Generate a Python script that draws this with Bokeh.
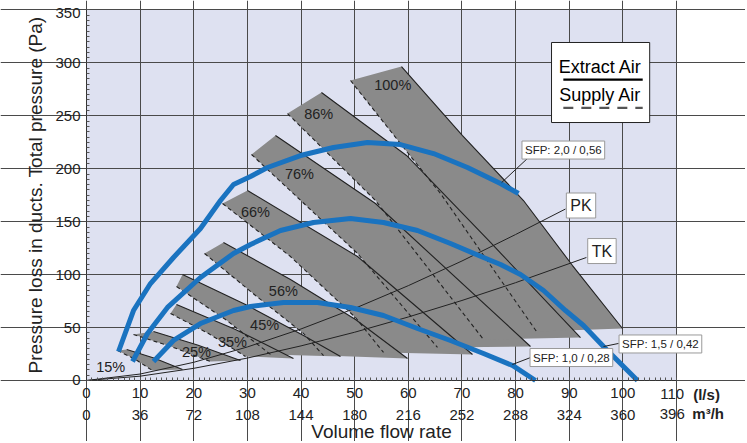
from bokeh.plotting import figure
from bokeh.models import Range1d, FixedTicker, Label, LinearAxis
from bokeh.embed import file_html
from bokeh.resources import INLINE
from bokeh.core.properties import value

# ---------------- data ----------------
x_ticks_ls = [0, 10, 20, 30, 40, 50, 60, 70, 80, 90, 100, 110]
x_ticks_m3h = [0, 36, 72, 108, 144, 180, 216, 252, 288, 324, 360, 396]
y_ticks = [0, 50, 100, 150, 200, 250, 300, 350]

speed_labels = ["15%", "25%", "35%", "45%", "56%", "66%", "76%", "86%", "100%"]
# extract air (solid) edges: top-right corner -> bottom
solid_x = [[7.5, 12.7, 17.9], [12.49, 20.69, 28.71], [16.78, 27.78, 38.59],
           [17.90, 29.64, 40.46, 47.36], [25.54, 38.03, 50.15, 59.85],
           [30.02, 50.53, 71.97], [35.24, 53.88, 82.78], [43.81, 59.66, 75.32, 92.10],
           [58.73, 70.10, 81.47, 90.61, 99.93]]
solid_y = [[29.3, 21.0, 10.4], [46.3, 33.5, 18.9], [71.8, 48.2, 20.8],
           [100.1, 71.8, 42.5, 22.7], [130.4, 95.4, 57.6, 20.8],
           [179.5, 117.1, 24.6], [231.4, 167.2, 32.1], [272.1, 212.6, 130.4, 40.6],
           [296.6, 231.4, 170.0, 108.6, 49.1]]
# supply air (dashed) edges: top-left corner -> bottom
dash_x = [[5.8, 9.1, 12.3], [8.76, 16.03, 23.12], [15.66, 22.75, 29.64],
          [16.78, 25.92, 34.31], [22.0, 31.51, 40.46, 44.19], [25.36, 38.03, 50.15, 55.37],
          [30.76, 50.53, 65.44], [37.47, 53.88, 74.02], [49.22, 59.85, 66.0, 83.90]]
dash_y = [[28.3, 20.0, 9.4], [43.5, 31.6, 17.9], [63.3, 44.4, 22.7],
          [88.8, 57.6, 24.6], [120.0, 80.3, 44.4, 23.6], [167.2, 117.1, 59.5, 26.5],
          [213.5, 120.0, 31.2], [252.2, 170.0, 38.7], [283.4, 215.4, 176.7, 46.3]]
speed_label_x = [4.5, 20.5, 27.2, 33.2, 36.7, 31.5, 39.7, 43.3, 57.1]
speed_label_y = [12.3, 26.5, 36.8, 52.9, 85.0, 159.6, 195.5, 252.2, 279.6]

sfp20_x = [5.97, 8.76, 11.93, 16.22, 21.25, 24.98, 27.41, 30.58, 33.75, 39.90, 46.05, 52.39,
           58.54, 64.70, 71.03, 77.19, 80.54]
sfp20_y = [27.4, 66.1, 91.6, 116.2, 143.6, 170.0, 185.2, 192.7, 201.2, 212.5, 220.1, 224.8,
           222.9, 214.4, 201.2, 186.1, 176.6]
sfp15_x = [8.58, 11.37, 15.10, 21.25, 27.41, 30.58, 36.17, 42.32, 49.22, 55.37, 61.71, 67.86,
           74.02, 77.19, 80.92, 85.21, 89.31, 92.66, 96.39, 99.56, 102.73]
sfp15_y = [17.9, 44.4, 69.0, 97.3, 120.0, 128.5, 141.7, 149.3, 153.0, 149.3, 141.7, 129.4,
           116.2, 109.6, 100.1, 85.0, 66.1, 52.0, 32.1, 16.1, 0.0]
sfp10_x = [12.49, 16.22, 21.25, 27.41, 30.58, 36.73, 43.07, 49.22, 55.37, 61.71, 67.86, 74.02,
           79.42, 83.71]
sfp10_y = [17.9, 37.8, 53.8, 66.1, 69.9, 73.7, 73.7, 69.0, 61.4, 49.1, 37.8, 25.5, 14.2, 0.0]

# system curves
pk_x = [0, 10, 20, 30, 40, 50, 60, 70, 80, 89.3]
pk_y = [0, 6.1, 17.2, 31.7, 48.7, 68.1, 89.6, 112.9, 137.9, 162.0]
tk_x = [0, 10, 20, 30, 40, 50, 60, 70, 80, 93.2]
tk_y = [0, 4.1, 11.5, 21.2, 32.7, 45.6, 60.0, 75.6, 92.4, 116.2]

sfp_texts = ["SFP: 2,0 / 0,56", "SFP: 1,5 / 0,42", "SFP: 1,0 / 0,28"]
sfp_box_x = [88.9, 107.0, 90.4]
sfp_box_y = [217.7, 34.5, 21.7]
sfp_lead_x = [[82.2, 77.4], [99.2, 96.4], [82.8, 79.4]]
sfp_lead_y = [[209.7, 187.0], [35.0, 32.1], [21.7, 15.1]]

# ---------------- styling ----------------
FONT = "Liberation Sans"
BG = "#dee1f1"
GRAY = "#8a8a8a"
BLUE = "#1a73c0"
INK = "#222222"
GRID = "#4a4a4a"

# the frame covers the whole canvas; axes are pinned to x=0 / y=0
p = figure(width=745, height=441, title=None,
           x_range=Range1d(-16.034, 122.864), y_range=Range1d(-57.625, 358.97),
           output_backend="svg", toolbar_location=None,
           min_border=0, min_border_left=0, min_border_right=0,
           min_border_top=0, min_border_bottom=0)
p.background_fill_color = "white"
p.border_fill_color = "white"
p.outline_line_color = None

# plot area background
p.quad(left=[0], right=[110], bottom=[0], top=[350], fill_color=BG, line_color=None,
       level="image")

p.xgrid.ticker = FixedTicker(ticks=x_ticks_ls)
p.ygrid.ticker = FixedTicker(ticks=y_ticks)
p.xgrid.bounds = (0, 350)
p.ygrid.bounds = (0, 110)
for g in (p.xgrid, p.ygrid):
    g.grid_line_color = GRID
    g.grid_line_width = 1

xax = p.xaxis[0]
yax = p.yaxis[0]
xax.fixed_location = 0
yax.fixed_location = 0
xax.bounds = (0, 110)
yax.bounds = (0, 350)
xax.ticker = FixedTicker(ticks=x_ticks_ls, minor_ticks=list(range(0, 111)))
yax.ticker = FixedTicker(ticks=y_ticks, minor_ticks=list(range(0, 351, 5)))
for ax in (xax, yax):
    ax.axis_line_color = "#333333"
    ax.major_tick_in = 0
    ax.major_tick_out = 0
    ax.minor_tick_in = 3
    ax.minor_tick_out = 0
    ax.minor_tick_line_color = "#555555"
    ax.major_label_text_font = FONT
    ax.major_label_text_font_size = "15px"
    ax.major_label_text_color = INK
xax.major_label_standoff = 8
yax.major_label_standoff = 6
ls_over = {v: str(v) for v in x_ticks_ls}
ls_over[x_ticks_ls[-1]] = ""
xax.major_label_overrides = ls_over
yax.major_label_overrides = {y_ticks[-1]: ""}
yax.axis_label = "Pressure loss in ducts. Total pressure (Pa)"
yax.axis_label_text_font = FONT
yax.axis_label_text_font_size = "19px"
yax.axis_label_text_font_style = "normal"
yax.axis_label_text_color = INK
yax.axis_label_standoff = 6

# second row: m3/h
m3_over = {a: str(b) for a, b in zip(x_ticks_ls, x_ticks_m3h)}
m3_over[x_ticks_ls[-1]] = ""
ax2 = LinearAxis(fixed_location=-19.84, ticker=FixedTicker(ticks=x_ticks_ls),
                 major_label_overrides=m3_over,
                 axis_line_color=None, major_tick_line_color=None, minor_tick_line_color=None,
                 major_tick_in=0, major_tick_out=0, minor_tick_in=0, minor_tick_out=0,
                 major_label_standoff=8, major_label_text_font=FONT,
                 major_label_text_font_size="15px", major_label_text_color=INK)
p.add_layout(ax2, "below")

# end tick labels, nudged inward as in the original
p.add_layout(Label(x=-1.12, y=346.7, text=str(y_ticks[-1]), text_font=FONT,
                   text_font_size="15px", text_color=INK, text_align="right",
                   text_baseline="middle"))
p.add_layout(Label(x=109.2, y=-12.7, text=str(x_ticks_ls[-1]), text_font=FONT,
                   text_font_size="15px", text_color=INK, text_align="center",
                   text_baseline="middle"))
p.add_layout(Label(x=109.2, y=-31.6, text=str(x_ticks_m3h[-1]), text_font=FONT,
                   text_font_size="15px", text_color=INK, text_align="center",
                   text_baseline="middle"))

# bands
band_xs = [d + s[::-1] for d, s in zip(dash_x, solid_x)]
band_ys = [d + s[::-1] for d, s in zip(dash_y, solid_y)]
p.patches(band_xs, band_ys, fill_color=GRAY, line_color=None)
p.multi_line(solid_x, solid_y, line_color=INK, line_width=1.1)
p.multi_line(dash_x, dash_y, line_color=INK, line_width=1.1, line_dash="4 3")

# system curves
p.line(pk_x, pk_y, line_color=INK, line_width=1)
p.line(tk_x, tk_y, line_color=INK, line_width=1)

# SFP curves
for xs, ys in ((sfp20_x, sfp20_y), (sfp15_x, sfp15_y), (sfp10_x, sfp10_y)):
    p.line(xs, ys, line_color=BLUE, line_width=5)

# speed labels
p.text(speed_label_x, speed_label_y, text=speed_labels, text_font=value(FONT),
       text_font_size="14.5px", text_color=INK, text_align="center", text_baseline="middle")

# SFP leaders + labels
p.multi_line(sfp_lead_x, sfp_lead_y, line_color=INK, line_width=1)
for t, x, y in zip(sfp_texts, sfp_box_x, sfp_box_y):
    p.add_layout(Label(x=x, y=y, text=t, text_font=FONT, text_font_size="11.5px",
                       text_color=INK, text_align="center", text_baseline="middle",
                       background_fill_color="white", border_line_color="#999999",
                       padding=3))
for t, x, y in (("PK", 92.2, 165.3), ("TK", 96.1, 122.3)):
    p.add_layout(Label(x=x, y=y, text=t, text_font=FONT, text_font_size="16px",
                       text_color=INK, text_align="center", text_baseline="middle",
                       background_fill_color="white", border_line_color="#999999",
                       padding=4))

# legend box
p.quad(left=[86.7], right=[105.0], bottom=[243.7], top=[319.3], fill_color="white",
       line_color=INK, line_width=1)
p.text([95.8], [296.5], text=["Extract Air"], text_font=value(FONT), text_font_size="18px",
       text_color="black", text_align="center", text_baseline="middle")
p.line([88.9, 103.7], [284.2, 284.2], line_color="black", line_width=2.2)
p.text([95.8], [270.0], text=["Supply Air"], text_font=value(FONT), text_font_size="18px",
       text_color="black", text_align="center", text_baseline="middle")
p.line([88.9, 103.7], [257.6, 257.6], line_color="#555555", line_width=2.2, line_dash="10 8")

# unit labels and x title
p.add_layout(Label(x=115.6, y=-13.2, text="(l/s)", text_font=FONT, text_font_size="15px",
                   text_font_style="bold", text_color=INK, text_align="center",
                   text_baseline="middle"))
p.add_layout(Label(x=115.9, y=-31.4, text="m³/h", text_font=FONT, text_font_size="15px",
                   text_font_style="bold", text_color=INK, text_align="center",
                   text_baseline="middle"))
p.add_layout(Label(x=55.0, y=-48.2, text="Volume flow rate", text_font=FONT,
                   text_font_size="19px", text_color=INK, text_align="center",
                   text_baseline="middle"))

open("out.html", "w").write(file_html(p, INLINE))
